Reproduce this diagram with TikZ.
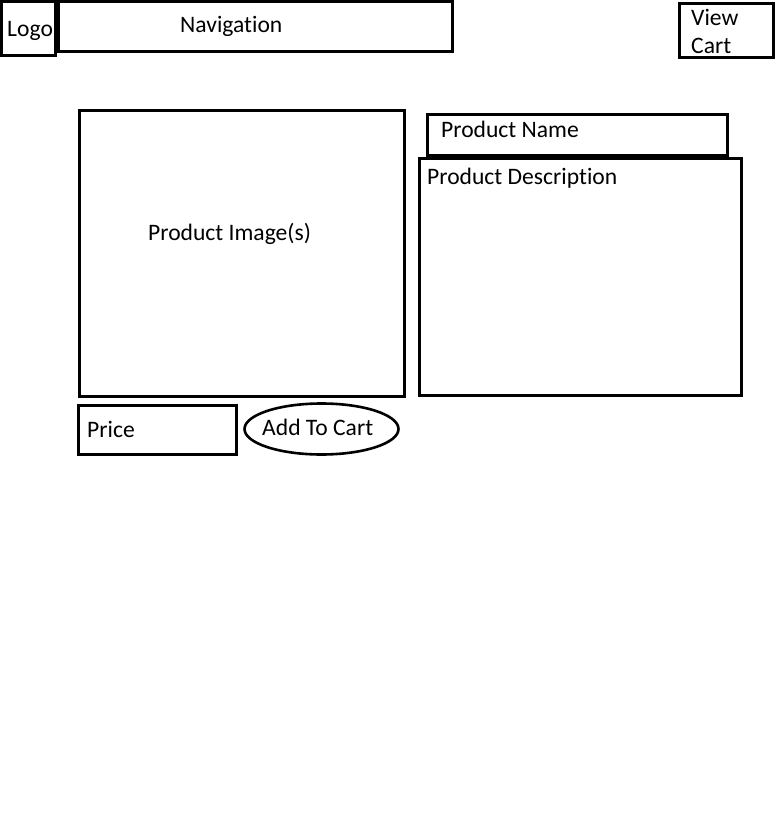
\documentclass[tikz,border=0pt]{standalone}
\usepackage{fontspec}
\setmainfont{Carlito}[Ligatures=NoCommon]
\usepackage{tikz}
\usetikzlibrary{shapes.geometric}

\begin{document}
\begin{tikzpicture}[x=1pt, y=-1pt, font=\fontsize{23.6}{28}\selectfont,
  box/.style={rectangle, draw=black, line width=3pt, inner sep=0pt, outer sep=0pt, anchor=north west},
  btn/.style={ellipse, draw=black, line width=2.6pt, inner sep=0pt, outer sep=0pt},
  txt/.style={inner sep=0pt, anchor=base west, align=left}]
  \useasboundingbox (0,0) rectangle (776,833);
  % header
  \node[box, minimum width=54pt, minimum height=54pt] (logo) at (1.5,1.5) {};
  \node[box, minimum width=394pt, minimum height=50pt] (nav) at (58.5,1.5) {};
  \node[box, minimum width=94pt, minimum height=54pt] (cart) at (679,3) {};
  \node[txt] (logoT) at (7,36) {Logo};
  \node[txt] (navT) at (180,32) {Navigation};
  \node[txt] (cartT) at (691,53) {View\\Cart};
  % product area
  \node[box, minimum width=325pt, minimum height=286pt] (img) at (79,110) {};
  \node[box, minimum width=300pt, minimum height=41pt] (name) at (427,114) {};
  \node[box, minimum width=322pt, minimum height=237pt] (desc) at (419,158) {};
  \node[txt] (imgT) at (148,240) {Product Image(s)};
  \node[txt] (nameT) at (441,137) {Product Name};
  \node[txt] (descT) at (427,184) {Product Description};
  % price and button
  \node[box, minimum width=158pt, minimum height=49pt] (price) at (78.5,405.5) {};
  \node[btn, minimum width=154pt, minimum height=51pt] (add) at (321.5,429) {};
  \node[txt] (priceT) at (87,437) {Price};
  \node[txt] (addT) at (262,435) {Add To Cart};
\end{tikzpicture}
\end{document}
